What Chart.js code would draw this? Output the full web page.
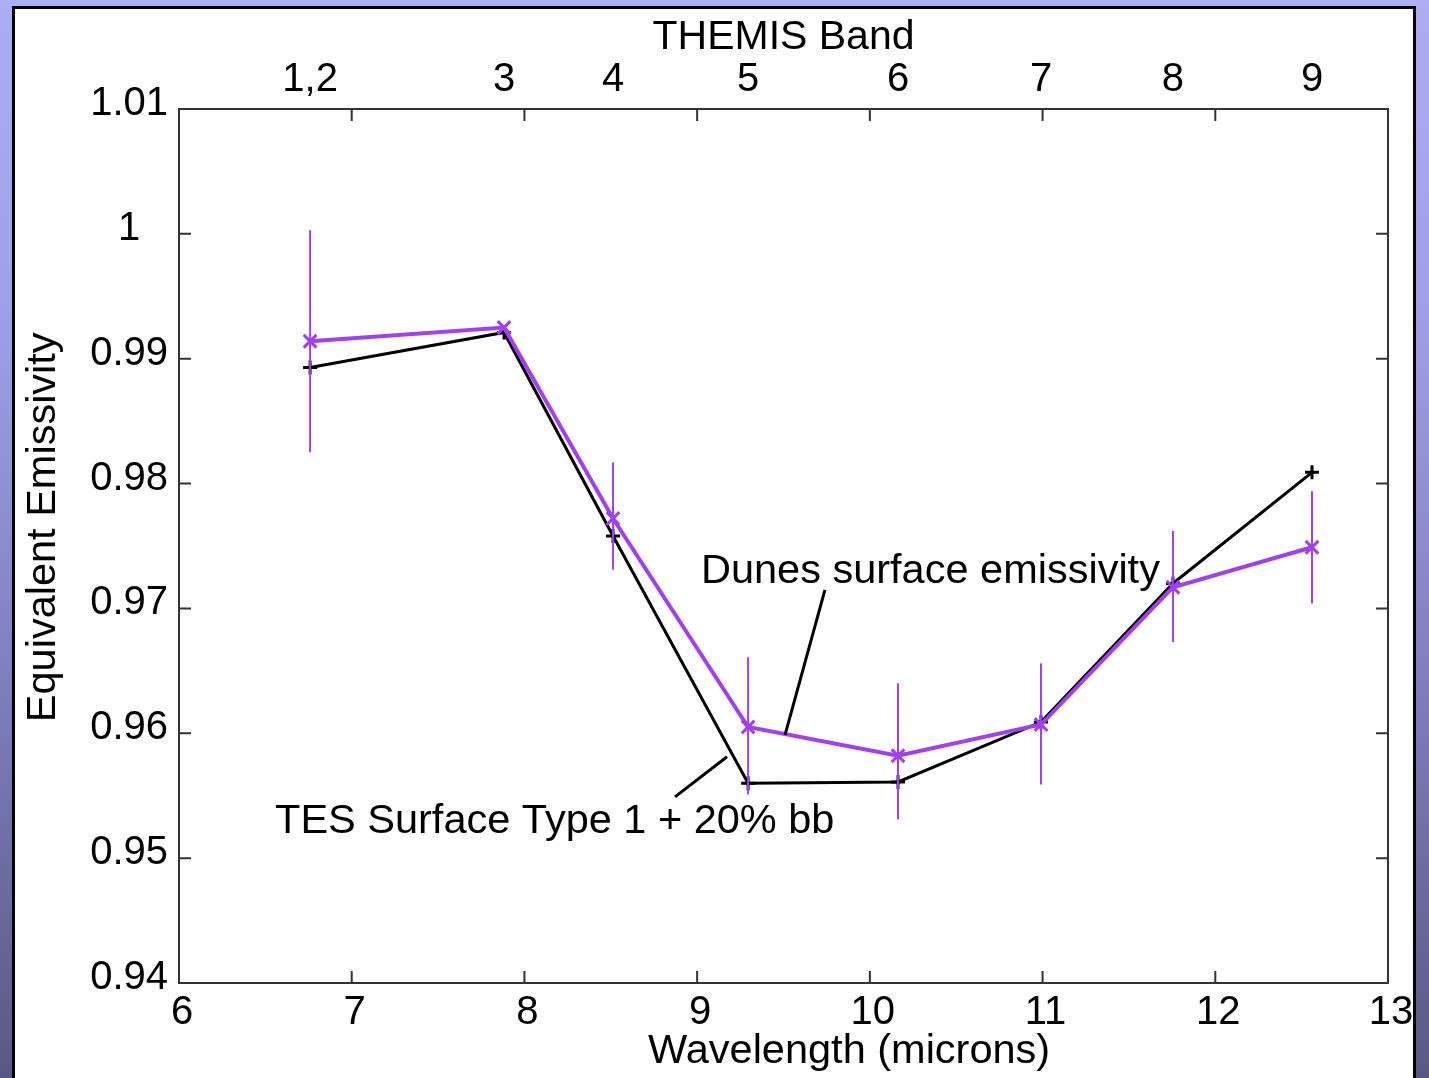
<!DOCTYPE html>
<html><head><meta charset="utf-8">
<script src="https://cdn.jsdelivr.net/npm/chart.js@4"></script>
<style>
html,body{margin:0;padding:0;width:1429px;height:1078px;overflow:hidden;}
body{background:linear-gradient(to bottom,#adadf4 0%,#a0a0e8 28%,#8282c2 60%,#5a5883 100%);position:relative;}
#panel{position:absolute;left:12px;top:6px;width:1398px;height:1100px;background:#fff;border:3px solid #000;}
canvas{position:absolute;left:0;top:0;}
</style></head>
<body><div id="panel"></div><canvas id="c" width="1429" height="1078"></canvas>
<script>
// ---- data ----
const wavelengths = [6.759, 7.882, 8.513, 9.295, 10.163, 10.991, 11.755, 12.560];
const bandLabels  = ['1,2', '3', '4', '5', '6', '7', '8', '9'];
const dunes       = [0.9914, 0.9925, 0.9772, 0.9605, 0.9582, 0.9607, 0.9717, 0.9749];
const dunesErrHigh= [1.0003, null,   0.9817, 0.9661, 0.9640, 0.9656, 0.9762, 0.9794];
const dunesErrLow = [0.9825, null,   0.9731, 0.9551, 0.9531, 0.9559, 0.9673, 0.9704];
const tes         = [0.9893, 0.9921, 0.9758, 0.9560, 0.9561, 0.9609, 0.9720, 0.9809];
const xTicks = [6, 7, 8, 9, 10, 11, 12, 13];
const yTicks = [0.94, 0.95, 0.96, 0.97, 0.98, 0.99, 1.00, 1.01];
const dunesLabel = 'Dunes surface emissivity';
const tesLabel = 'TES Surface Type 1 + 20% bb';
const xTitle = 'Wavelength (microns)';
const yTitle = 'Equivalent Emissivity';
const topTitle = 'THEMIS Band';

// ---- styling ----
const FONT = "'Liberation Sans', Arial, Helvetica, sans-serif";
const PURPLE = '#a040f0';
const AXIS = '#333';
const f40 = {family: FONT, size: 40};
const f41 = {family: FONT, size: 41};

const annotations = [
  {text: dunesLabel, x: 9.022, y: 0.97293, line: [[9.740, 0.97149], [9.509, 0.95988]]},
  {text: tesLabel,   x: 6.556, y: 0.95291, line: [[8.872, 0.95491], [9.173, 0.95812]]}
];

const innerTicks = {
  id: 'innerTicks',
  afterDraw(chart) {
    const {ctx, chartArea: a, scales: {x, y}} = chart;
    ctx.save();
    ctx.strokeStyle = AXIS; ctx.lineWidth = 2;
    ctx.beginPath();
    x.ticks.forEach(t => {
      const p = x.getPixelForValue(t.value);
      ctx.moveTo(p, a.bottom); ctx.lineTo(p, a.bottom - 12);
      ctx.moveTo(p, a.top); ctx.lineTo(p, a.top + 12);
    });
    y.ticks.forEach(t => {
      const p = y.getPixelForValue(t.value);
      ctx.moveTo(a.left, p); ctx.lineTo(a.left + 12, p);
      ctx.moveTo(a.right, p); ctx.lineTo(a.right - 12, p);
    });
    ctx.stroke();
    ctx.restore();
  }
};

const errorBars = {
  id: 'errorBars',
  afterDatasetsDraw(chart) {
    const {ctx, scales: {x, y}} = chart;
    ctx.save();
    ctx.strokeStyle = PURPLE; ctx.lineWidth = 2;
    wavelengths.forEach((w, i) => {
      if (dunesErrHigh[i] == null) return;
      const px = x.getPixelForValue(w);
      ctx.beginPath();
      ctx.moveTo(px, y.getPixelForValue(dunesErrHigh[i]));
      ctx.lineTo(px, y.getPixelForValue(dunesErrLow[i]));
      ctx.stroke();
    });
    ctx.restore();
  }
};

const notes = {
  id: 'notes',
  afterDraw(chart) {
    const {ctx, chartArea: a, scales: {x, y}} = chart;
    ctx.save();
    ctx.fillStyle = '#000'; ctx.strokeStyle = '#000'; ctx.lineWidth = 3;
    ctx.font = `41.5px ${FONT}`;
    ctx.textBaseline = 'middle'; ctx.textAlign = 'left';
    annotations.forEach(an => {
      ctx.fillText(an.text, x.getPixelForValue(an.x), y.getPixelForValue(an.y));
      ctx.beginPath();
      ctx.moveTo(x.getPixelForValue(an.line[0][0]), y.getPixelForValue(an.line[0][1]));
      ctx.lineTo(x.getPixelForValue(an.line[1][0]), y.getPixelForValue(an.line[1][1]));
      ctx.stroke();
    });
    // bottom axis title
    ctx.textAlign = 'center';
    ctx.fillText(xTitle, x.getPixelForValue(9.88), x.bottom - 26);
    // left axis title
    ctx.translate(44, y.getPixelForValue(0.9765));
    ctx.rotate(-Math.PI / 2);
    ctx.fillText(yTitle, 0, 0);
    ctx.restore();
  }
};

new Chart(document.getElementById('c'), {
  type: 'line',
  data: {
    datasets: [
      {
        label: dunesLabel,
        data: wavelengths.map((w, i) => ({x: w, y: dunes[i]})),
        borderColor: PURPLE, backgroundColor: PURPLE, borderWidth: 4,
        pointStyle: 'crossRot', pointRadius: 9, pointBorderWidth: 3,
        pointBorderColor: PURPLE, tension: 0, fill: false
      },
      {
        label: tesLabel,
        data: wavelengths.map((w, i) => ({x: w, y: tes[i]})),
        borderColor: '#000', backgroundColor: '#000', borderWidth: 3,
        pointStyle: 'cross', pointRadius: 7, pointBorderWidth: 3,
        pointBorderColor: '#000', tension: 0, fill: false
      }
    ]
  },
  options: {
    responsive: false, animation: false, devicePixelRatio: 1,
    layout: {padding: 0},
    plugins: {legend: {display: false}, tooltip: {enabled: false}},
    scales: {
      x: {
        type: 'linear', position: 'bottom', min: 6, max: 13,
        afterBuildTicks: s => { s.ticks = xTicks.map(v => ({value: v})); },
        ticks: {font: f40, color: '#000', padding: 6, labelOffset: 3, maxRotation: 0, autoSkip: false,
                callback: v => String(v)},
        grid: {display: false, drawTicks: false},
        border: {display: true, color: AXIS, width: 2},
        afterFit: s => { s.height = 95; }
      },
      x2: {
        type: 'linear', position: 'top', min: 6, max: 13,
        afterBuildTicks: s => { s.ticks = wavelengths.map(v => ({value: v})); },
        ticks: {font: f40, color: '#000', padding: 5, maxRotation: 0, autoSkip: false,
                callback: (v, i) => bandLabels[i]},
        title: {display: true, text: topTitle, font: f41, color: '#000', padding: {top: 13, bottom: 0}},
        grid: {display: false, drawTicks: false},
        border: {display: true, color: AXIS, width: 2},
        afterFit: s => { s.height = 109; }
      },
      y: {
        type: 'linear', position: 'left', min: 0.94, max: 1.01,
        afterBuildTicks: s => { s.ticks = yTicks.map(v => ({value: v})); },
        ticks: {font: f40, color: '#000', padding: 11, labelOffset: -5, crossAlign: 'center',
                callback: v => String(parseFloat(v.toFixed(2)))},
        title: {display: false},
        grid: {display: false, drawTicks: false},
        border: {display: true, color: AXIS, width: 2},
        afterFit: s => { s.width = 179; }
      },
      y2: {
        type: 'linear', position: 'right', min: 0.94, max: 1.01,
        ticks: {display: false},
        grid: {display: false, drawTicks: false},
        border: {display: true, color: AXIS, width: 2},
        afterFit: s => { s.width = 41; }
      }
    }
  },
  plugins: [innerTicks, errorBars, notes]
});
</script>
</body></html>
